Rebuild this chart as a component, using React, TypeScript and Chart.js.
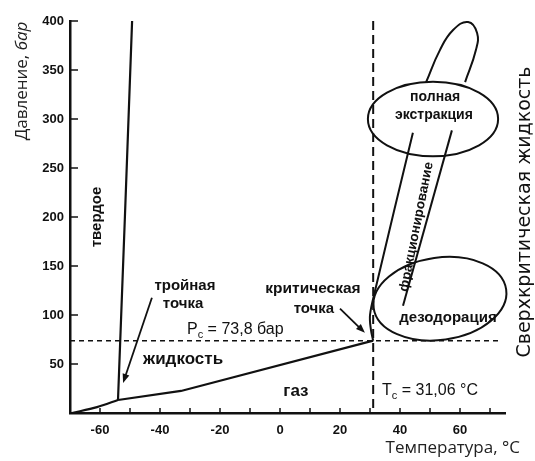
import React, { useEffect, useRef } from "react";
import { Chart, registerables } from "chart.js";

Chart.register(...registerables);

// CO2 phase boundaries: temperature (°C) vs pressure (bar)
const sublimationT = [-69.3, -61, -54];
const sublimationP = [0, 6, 13.3];
const meltingT = [-54, -51.7, -49.3];
const meltingP = [13.3, 200, 400];
const vaporT = [-54, -33, 31.06];
const vaporP = [13.3, 22.5, 73.8];

// Critical point
const criticalT = 31.06;
const criticalP = 73.8;

// Axis tick labels
const xTickValues = [-60, -40, -20, 0, 20, 40, 60];
const yTickValues = [50, 100, 150, 200, 250, 300, 350, 400];

// Outline of the supercritical processing region (lobe above the extraction zone, band edges)
const lobeT = [48.7, 53.3, 57.7, 62.7, 65.7, 65.3, 61.7];
const lobeP = [337.6, 370.3, 390.8, 399, 387.7, 370.3, 337.6];
const bandLeftT = [44.3, 31.7, 30, 30.3, 31.06];
const bandLeftP = [286, 125, 100, 85, 73.8];
const bandRightT = [57.3, 41];
const bandRightP = [288.4, 109.5];

const INK = "#111";

const toPoints = (ts: number[], ps: number[]) => ts.map((t, i) => ({ x: t, y: ps[i] }));

const lineSet = (ts: number[], ps: number[], width: number, tension = 0) => ({
  data: toPoints(ts, ps),
  showLine: true,
  borderColor: INK,
  borderWidth: width,
  pointRadius: 0,
  tension,
  clip: false as const,
});

const notes = {
  id: "phaseNotes",
  afterDatasetsDraw(chart: any) {
    const { ctx, chartArea: ca } = chart;
    const xs = chart.scales.x;
    const ys = chart.scales.y;
    const px = (t: number) => xs.getPixelForValue(t);
    const py = (p: number) => ys.getPixelForValue(p);

    const seg = (x1: number, y1: number, x2: number, y2: number) => {
      ctx.beginPath();
      ctx.moveTo(x1, y1);
      ctx.lineTo(x2, y2);
      ctx.stroke();
    };

    ctx.save();
    ctx.strokeStyle = INK;
    ctx.fillStyle = INK;
    ctx.lineCap = "butt";

    // inward tick marks
    ctx.lineWidth = 1.5;
    for (let p = 50; p <= 400; p += 50) seg(ca.left, py(p), ca.left + 8, py(p));
    for (let t = -60; t <= 70; t += 10) seg(px(t), ca.bottom, px(t), ca.bottom - 5);

    // critical isotherm and isobar
    ctx.setLineDash([9, 5]);
    ctx.lineWidth = 2;
    seg(px(criticalT), py(400), px(criticalT), py(0));
    ctx.setLineDash([5, 4]);
    ctx.lineWidth = 1.5;
    seg(px(-70), py(criticalP), px(74), py(criticalP));
    ctx.setLineDash([]);

    // process zones
    const ellipse = (ct: number, cp: number, rt: number, rp: number, rotDeg: number) => {
      const cx = px(ct);
      const cy = py(cp);
      const rx = Math.abs(px(ct + rt) - cx);
      const ry = Math.abs(py(cp + rp) - cy);
      ctx.beginPath();
      ctx.ellipse(cx, cy, rx, ry, (rotDeg * Math.PI) / 180, 0, Math.PI * 2);
      ctx.stroke();
    };
    ctx.lineWidth = 2;
    ellipse(51, 300, 21.7, 38, 0);
    ellipse(53.3, 116.6, 22.3, 42, -8);

    // arrows pointing at the triple and critical points
    const arrow = (t1: number, p1: number, t2: number, p2: number) => {
      const x1 = px(t1), y1 = py(p1), x2 = px(t2), y2 = py(p2);
      const a = Math.atan2(y2 - y1, x2 - x1);
      const len = 9, half = 3.5;
      ctx.lineWidth = 1.8;
      seg(x1, y1, x2 - Math.cos(a) * len * 0.6, y2 - Math.sin(a) * len * 0.6);
      ctx.beginPath();
      ctx.moveTo(x2, y2);
      ctx.lineTo(x2 - Math.cos(a) * len - Math.sin(a) * half, y2 - Math.sin(a) * len + Math.cos(a) * half);
      ctx.lineTo(x2 - Math.cos(a) * len + Math.sin(a) * half, y2 - Math.sin(a) * len - Math.cos(a) * half);
      ctx.closePath();
      ctx.fill();
    };
    arrow(-42.7, 117.6, -52.3, 30.7);
    arrow(20, 106.4, 28.3, 81.8);

    // labels
    const label = (s: string, t: number, p: number, font: string, align: CanvasTextAlign = "center", rot = 0) => {
      ctx.save();
      ctx.translate(px(t), py(p));
      if (rot) ctx.rotate((rot * Math.PI) / 180);
      ctx.font = font;
      ctx.textAlign = align;
      ctx.textBaseline = "middle";
      ctx.fillText(s, 0, 0);
      ctx.restore();
    };
    const B = "'Liberation Sans', Arial, sans-serif";
    label("твердое", -61, 200, `bold 15px ${B}`, "center", -90);
    label("тройная", -31.7, 130, `bold 15px ${B}`);
    label("точка", -32.3, 111.5, `bold 15px ${B}`);
    label("критическая", 11, 127, `bold 15.5px ${B}`);
    label("точка", 11.3, 106.4, `bold 15px ${B}`);
    label("жидкость", -32.3, 55, `bold 17px ${B}`);
    label("газ", 5.3, 22.5, `bold 17px ${B}`);
    label("полная", 51.7, 322, `bold 14px ${B}`);
    label("экстракция", 51.3, 303.8, `bold 14px ${B}`);
    label("дезодорация", 56, 97.2, `bold 15px ${B}`);
    label("фракционирование", 45.5, 190, `bold 13.5px ${B}`, "center", -78.9);

    // P_c and T_c annotations with subscripts
    const subbed = (main: string, sub: string, rest: string, t: number, p: number) => {
      let x0 = px(t);
      const y0 = py(p);
      ctx.textAlign = "left";
      ctx.textBaseline = "middle";
      ctx.font = `16px ${B}`;
      ctx.fillText(main, x0, y0);
      x0 += ctx.measureText(main).width;
      ctx.font = `11px ${B}`;
      ctx.fillText(sub, x0, y0 + 5);
      x0 += ctx.measureText(sub).width;
      ctx.font = `16px ${B}`;
      ctx.fillText(rest, x0, y0);
    };
    subbed("P", "c", " = 73,8 бар", -31, 85);
    subbed("T", "c", " = 31,06 °C", 34, 22.5);

    // axis titles
    const O = "'Open Sans', 'DejaVu Sans', sans-serif";
    ctx.save();
    ctx.translate(ca.left - 48, ca.top + 60);
    ctx.rotate(-Math.PI / 2);
    ctx.textBaseline = "middle";
    ctx.textAlign = "left";
    const f1 = `17px ${O}`;
    const f2 = `italic 17px ${O}`;
    ctx.font = f1;
    const w1 = ctx.measureText("Давление, ").width;
    ctx.font = f2;
    const w2 = ctx.measureText("бар").width;
    const sx = -(w1 + w2) / 2;
    ctx.fillStyle = "#222";
    ctx.font = f1;
    ctx.fillText("Давление, ", sx, 0);
    ctx.font = f2;
    ctx.fillText("бар", sx + w1, 0);
    ctx.restore();

    ctx.fillStyle = "#222";
    ctx.font = `17px ${O}`;
    ctx.textAlign = "right";
    ctx.textBaseline = "middle";
    ctx.fillText("Температура, °C", ca.right + 15, ca.bottom + 35);

    ctx.save();
    ctx.translate(ca.right + 20, ca.top + 191);
    ctx.rotate(-Math.PI / 2);
    ctx.fillStyle = INK;
    ctx.font = `19px 'DejaVu Sans', sans-serif`;
    ctx.textAlign = "center";
    ctx.textBaseline = "middle";
    ctx.fillText("Сверхкритическая жидкость", 0, 0);
    ctx.restore();

    ctx.restore();
  },
};

export default function App() {
  const canvasRef = useRef<HTMLCanvasElement | null>(null);

  useEffect(() => {
    const canvas = canvasRef.current;
    if (!canvas) return;
    const tickFont = { family: "'Liberation Sans', Arial, sans-serif", size: 13, weight: "bold" as const };
    const chart = new Chart(canvas, {
      type: "scatter",
      data: {
        datasets: [
          lineSet(sublimationT, sublimationP, 2.2, 0.3),
          lineSet(meltingT, meltingP, 2.2),
          lineSet(vaporT, vaporP, 2.2),
          lineSet(lobeT, lobeP, 2, 0.45),
          lineSet(bandLeftT, bandLeftP, 2, 0.35),
          lineSet(bandRightT, bandRightP, 2),
        ],
      },
      options: {
        responsive: false,
        animation: false,
        events: [],
        layout: { padding: { top: 21, right: 30, bottom: 0, left: 0 } },
        plugins: { legend: { display: false }, tooltip: { enabled: false } },
        scales: {
          x: {
            type: "linear",
            min: -70,
            max: 75,
            afterBuildTicks: (s: any) => {
              s.ticks = xTickValues.map((v) => ({ value: v }));
            },
            afterFit: (s: any) => {
              s.height = 48;
            },
            grid: { display: false, drawTicks: false },
            border: { display: true, color: INK, width: 2.5 },
            ticks: { color: INK, font: tickFont, padding: 10, maxRotation: 0, autoSkip: false },
          },
          y: {
            type: "linear",
            min: 0,
            max: 400,
            afterBuildTicks: (s: any) => {
              s.ticks = yTickValues.map((v) => ({ value: v }));
            },
            afterFit: (s: any) => {
              s.width = 70;
            },
            grid: { display: false, drawTicks: false },
            border: { display: true, color: INK, width: 2.5 },
            ticks: { color: INK, font: tickFont, padding: 6, autoSkip: false },
          },
        },
      },
      plugins: [notes],
    });
    return () => chart.destroy();
  }, []);

  return (
    <div style={{ position: "absolute", left: 0, top: 0, width: 535, height: 461, background: "#fff" }}>
      <canvas ref={canvasRef} width={535} height={461} />
    </div>
  );
}
